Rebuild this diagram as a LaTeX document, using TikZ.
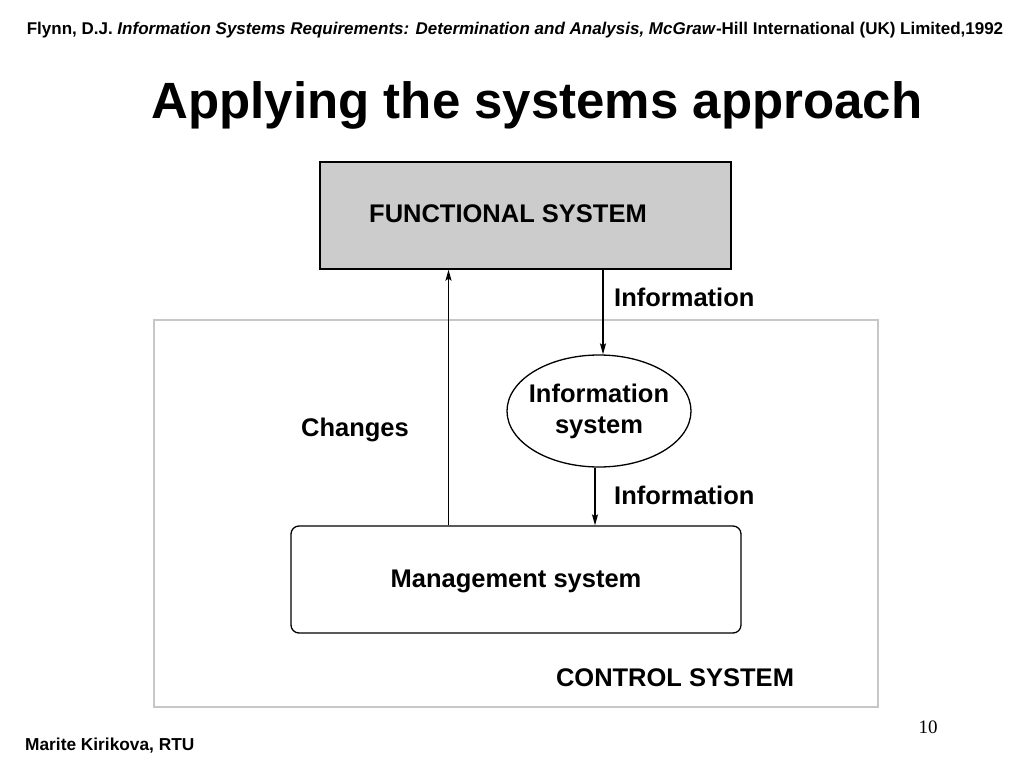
\documentclass[tikz,border=0pt]{standalone}
\usepackage{fontspec}
\setmainfont{Liberation Sans}
\newfontfamily\serifnum{Liberation Serif}
\usetikzlibrary{shapes.geometric,arrows.meta}
\begin{document}
\begin{tikzpicture}[x=1pt,y=-1pt,
  lbl/.style={font=\bfseries\fontsize{25.5}{29}\selectfont, inner sep=0pt},
  arr/.style={draw=black, line width=1.4pt, -{Stealth[length=11pt,width=6pt,inset=2pt]}},
  box/.style={draw=black, line width=1.3pt, inner sep=0pt}]
\useasboundingbox (0,0) rectangle (1024,768);
\fill[white] (0,0) rectangle (1024,768);
% header
\node[inner sep=0pt, font=\bfseries\fontsize{17}{20}\selectfont] (hdr) at (515,30)
  {Flynn, D.J. \textit{Information Systems Requirements: Determination and Analysis, McGraw}-Hill International (UK) Limited,1992};
\node[inner sep=0pt, font=\bfseries\fontsize{51}{58}\selectfont] (title) at (537,105) {Applying the systems approach};
% control system frame
\node[draw=black!22, line width=1.3pt, minimum width=724pt, minimum height=387pt, inner sep=0pt] (ctrl) at (516,513.5) {};
% functional system
\node[box, fill=black!20, minimum width=411pt, minimum height=107pt] (func) at (525.5,215.5) {};
\node[lbl] (functxt) at (508,214) {FUNCTIONAL SYSTEM};
% information system ellipse
\node[ellipse, draw=black, line width=1.3pt, minimum width=184pt, minimum height=112pt, inner sep=0pt] (infosys) at (599,411) {};
\node[lbl, align=center] (infotxt) at (599,411) {Information\\[2pt]system};
% management system
\node[box, rounded corners=8pt, minimum width=450pt, minimum height=107pt] (mgmt) at (516,579.5) {};
\node[lbl] (mgmttxt) at (516,581) {Management system};
% connectors
\coordinate (c1) at ([xshift=-67.5pt]mgmt.north);
\coordinate (c2) at (c1 |- func.south);
\draw[arr] (c1) -- (c2);
\coordinate (c3) at (603,0);
\draw[arr] (c3 |- func.south) -- (c3 |- infosys.north);
\coordinate (c4) at (595,0);
\draw[arr] (c4 |- infosys.south) -- (c4 |- mgmt.north);
% labels
\node[lbl, anchor=west] (inf1) at (614,297) {Information};
\node[lbl, anchor=west] (inf2) at (614,495) {Information};
\node[lbl] (chg) at (355,430) {Changes};
\node[lbl] (ctrltxt) at (675,678) {CONTROL SYSTEM};
% footer
\node[inner sep=0pt, font=\serifnum\fontsize{19}{22}\selectfont] (pg) at (928,727) {10};
\node[inner sep=0pt, anchor=west, font=\bfseries\fontsize{17.3}{20}\selectfont] (auth) at (25,746) {Marite Kirikova, RTU};
\end{tikzpicture}
\end{document}
